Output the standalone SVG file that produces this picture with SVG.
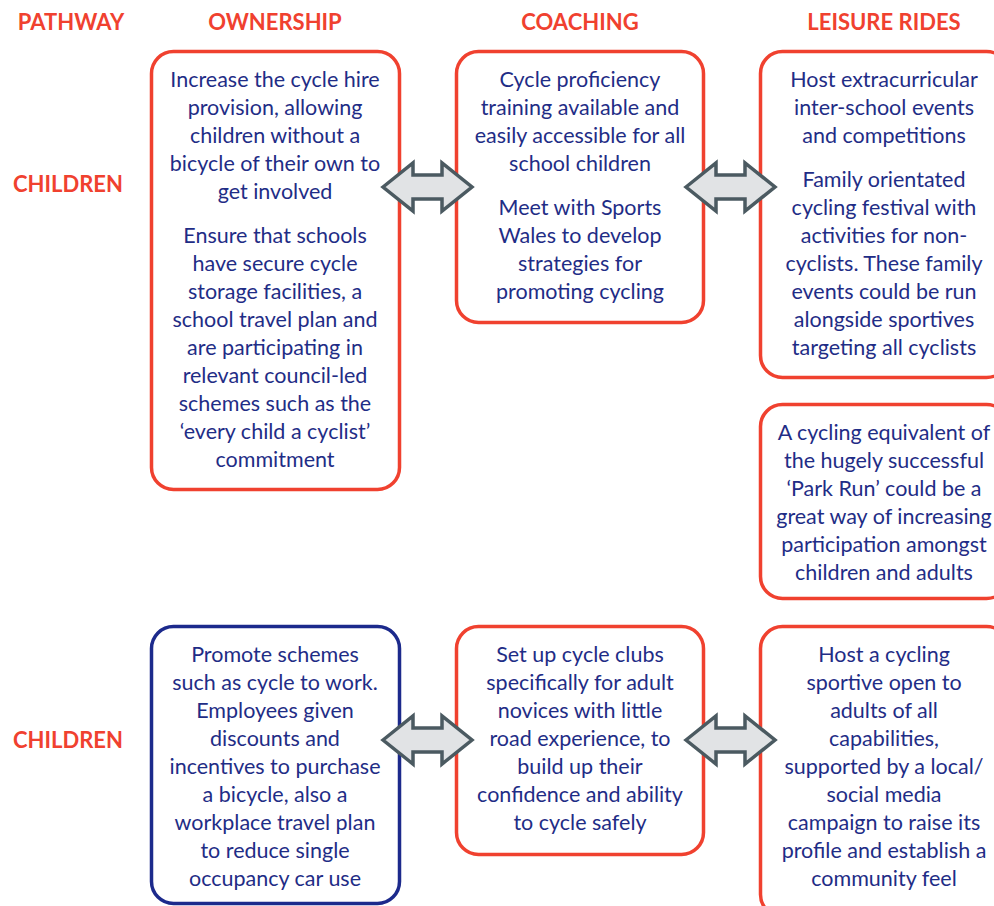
<svg xmlns="http://www.w3.org/2000/svg" xmlns:xlink="http://www.w3.org/1999/xlink" width="994" height="906" viewBox="0 0 994 906">
<style>
.hdr{font-family:Lato,"Liberation Sans",sans-serif;font-weight:bold;font-size:22px;fill:#f0412f;text-anchor:middle}
.box{fill:#fff;stroke:#f0412f;stroke-width:3.5}
.boxb{fill:#fff;stroke:#1c2a8c;stroke-width:3.5}
.t{font-family:Lato,"Liberation Sans",sans-serif;font-size:21.5px;fill:#1f2d86;text-anchor:middle}
.arr{fill:#e1e3e5;stroke:#4b5a61;stroke-width:3.5;stroke-linejoin:miter}
</style>
<defs>
<path id="dbl" d="M0,0 L30,-24 L30,-12 L59,-12 L59,-24 L89,0 L59,24 L59,12 L30,12 L30,24 Z"/>
</defs>
<rect width="994" height="906" fill="#fff"/>
<g id="headers">
<text class="hdr" x="71" y="30">PATHWAY</text>
<text class="hdr" x="275" y="30">OWNERSHIP</text>
<text class="hdr" x="580" y="30">COACHING</text>
<text class="hdr" x="884" y="30">LEISURE RIDES</text>
<text class="hdr" x="68" y="192">CHILDREN</text>
<text class="hdr" x="68" y="748">CHILDREN</text>
</g>
<g id="own1">
<rect class="box" x="151.5" y="51.5" width="248" height="438" rx="22"/>
<text class="t"><tspan x="275" y="87">Increase the cycle hire</tspan><tspan x="275" y="115">provision, allowing</tspan><tspan x="275" y="143">children without a</tspan><tspan x="275" y="171">bicycle of their own to</tspan><tspan x="275" y="199">get involved</tspan><tspan x="275" y="243">Ensure that schools</tspan><tspan x="275" y="271">have secure cycle</tspan><tspan x="275" y="299">storage facilities, a</tspan><tspan x="275" y="327">school travel plan and</tspan><tspan x="275" y="355">are participating in</tspan><tspan x="275" y="383">relevant council-led</tspan><tspan x="275" y="411">schemes such as the</tspan><tspan x="275" y="439">‘every child a cyclist’</tspan><tspan x="275" y="467">commitment</tspan></text>
</g>
<g id="coach1">
<rect class="box" x="456.5" y="51.5" width="247" height="271" rx="22"/>
<text class="t"><tspan x="580" y="87">Cycle proficiency</tspan><tspan x="580" y="115">training available and</tspan><tspan x="580" y="143">easily accessible for all</tspan><tspan x="580" y="171">school children</tspan><tspan x="580" y="215">Meet with Sports</tspan><tspan x="580" y="243">Wales to develop</tspan><tspan x="580" y="271">strategies for</tspan><tspan x="580" y="299">promoting cycling</tspan></text>
</g>
<g id="leisure1">
<rect class="box" x="760.5" y="51.5" width="248" height="326" rx="22"/>
<text class="t"><tspan x="884" y="87">Host extracurricular</tspan><tspan x="884" y="115">inter-school events</tspan><tspan x="884" y="143">and competitions</tspan><tspan x="884" y="187">Family orientated</tspan><tspan x="884" y="215">cycling festival with</tspan><tspan x="884" y="243">activities for non-</tspan><tspan x="884" y="271">cyclists. These family</tspan><tspan x="884" y="299">events could be run</tspan><tspan x="884" y="327">alongside sportives</tspan><tspan x="884" y="355">targeting all cyclists</tspan></text>
</g>
<g id="leisure2">
<rect class="box" x="760.5" y="404.5" width="248" height="194" rx="22"/>
<text class="t"><tspan x="884" y="440">A cycling equivalent of</tspan><tspan x="884" y="468">the hugely successful</tspan><tspan x="884" y="496">‘Park Run’ could be a</tspan><tspan x="884" y="524">great way of increasing</tspan><tspan x="884" y="552">participation amongst</tspan><tspan x="884" y="580">children and adults</tspan></text>
</g>
<g id="own2">
<rect class="boxb" x="151.5" y="626.5" width="248" height="277" rx="22"/>
<text class="t"><tspan x="275" y="662">Promote schemes</tspan><tspan x="275" y="690">such as cycle to work.</tspan><tspan x="275" y="718">Employees given</tspan><tspan x="275" y="746">discounts and</tspan><tspan x="275" y="774">incentives to purchase</tspan><tspan x="275" y="802">a bicycle, also a</tspan><tspan x="275" y="830">workplace travel plan</tspan><tspan x="275" y="858">to reduce single</tspan><tspan x="275" y="886">occupancy car use</tspan></text>
</g>
<g id="coach2">
<rect class="box" x="456.5" y="626.5" width="247" height="228" rx="22"/>
<text class="t"><tspan x="580" y="662">Set up cycle clubs</tspan><tspan x="580" y="690">specifically for adult</tspan><tspan x="580" y="718">novices with little</tspan><tspan x="580" y="746">road experience, to</tspan><tspan x="580" y="774">build up their</tspan><tspan x="580" y="802">confidence and ability</tspan><tspan x="580" y="830">to cycle safely</tspan></text>
</g>
<g id="leisure3">
<rect class="box" x="760.5" y="626.5" width="248" height="290" rx="22"/>
<text class="t"><tspan x="884" y="662">Host a cycling</tspan><tspan x="884" y="690">sportive open to</tspan><tspan x="884" y="718">adults of all</tspan><tspan x="884" y="746">capabilities,</tspan><tspan x="884" y="774">supported by a local/</tspan><tspan x="884" y="802">social media</tspan><tspan x="884" y="830">campaign to raise its</tspan><tspan x="884" y="858">profile and establish a</tspan><tspan x="884" y="886">community feel</tspan></text>
</g>
<g id="connectors">
<use xlink:href="#dbl" class="arr" transform="translate(383,187)"/>
<use xlink:href="#dbl" class="arr" transform="translate(686,187)"/>
<use xlink:href="#dbl" class="arr" transform="translate(383,740)"/>
<use xlink:href="#dbl" class="arr" transform="translate(686,740)"/>
</g>
</svg>
